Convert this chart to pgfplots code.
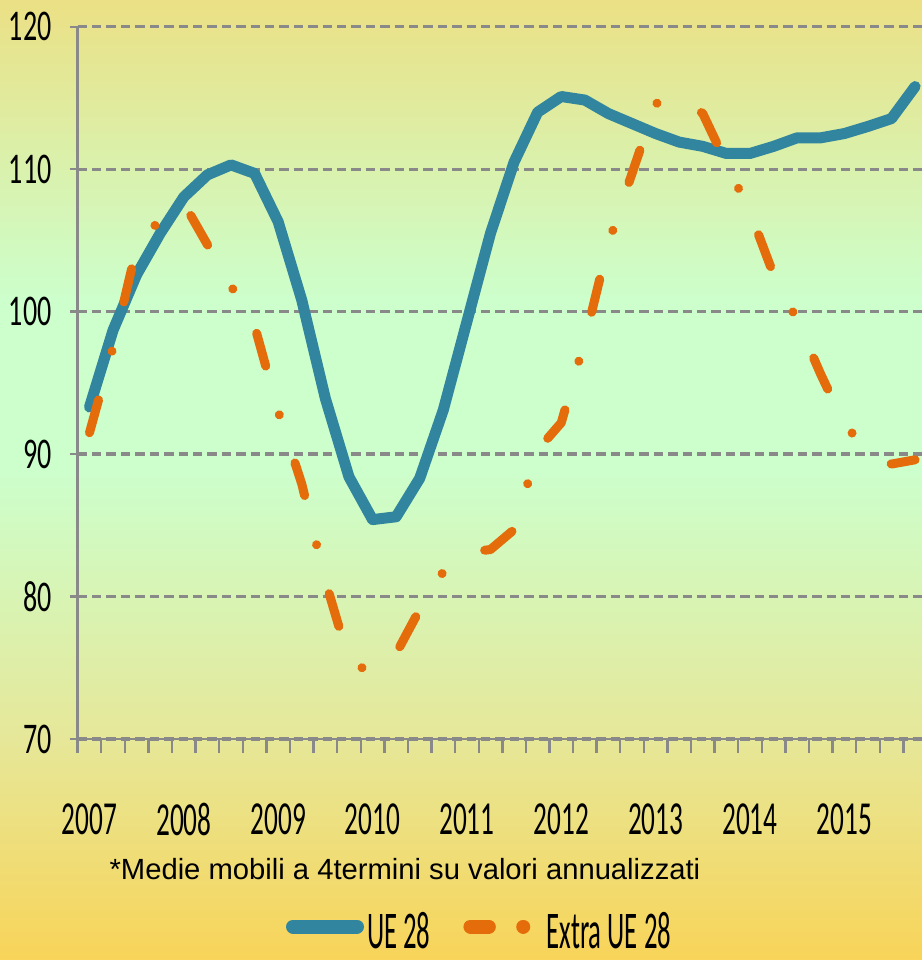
\documentclass[border=0pt]{standalone}
\usepackage{pgfplots}
\pgfplotsset{compat=1.18}
\usepackage{pgfplotstable}
\usepackage{fontspec}
\setmainfont{Carlito}
\newfontfamily\ytf[FakeStretch=0.64]{Carlito}
\newfontfamily\xtf[FakeStretch=0.575]{Carlito}
\newfontfamily\lgf[FakeStretch=0.505]{Carlito}
\newfontfamily\notef{Liberation Sans}
\definecolor{ueblue}{RGB}{49,133,158}
\definecolor{extraorange}{RGB}{228,108,10}
\definecolor{axgray}{RGB}{137,137,137}
\definecolor{bgA}{RGB}{235,224,133}
\definecolor{bgB}{RGB}{204,255,204}
\definecolor{bgC}{RGB}{230,231,152}
\definecolor{bgD}{RGB}{248,212,89}

\pgfplotstableread{
q ue extra
0 93.3 91.5
1 98.7 97.5
2 102.6 104.5
3 105.5 106.5
4 108.05 107.6
5 109.6 104.7
6 110.3 101.8
7 109.7 99.0
8 106.3 93.0
9 100.8 87.9
10 93.9 81.1
11 88.4 75.5
12 85.4 74.6
13 85.6 76.0
14 88.3 79.1
15 93.1 81.75
16 99.3 83.1
17 105.5 83.3
18 110.5 84.7
19 114.0 90.3
20 115.1 92.2
21 114.85 98.0
22 113.9 104.8
23 113.2 109.7
24 112.5 114.6
25 111.9 115.1
26 111.6 113.9
27 111.1 110.4
28 111.1 107.0
29 111.6 102.6
30 112.2 99.4
31 112.2 95.6
32 112.5 92.1
33 113.0 90.2
34 113.55 89.3
35 115.8 89.6
}\data

\begin{document}
\begin{tikzpicture}
\path[use as bounding box] (0,0) rectangle (461pt,480pt);
\shade[top color=bgA, bottom color=bgB] (0,329.5pt) rectangle (461pt,480pt);
\fill[bgB] (0,244.5pt) rectangle (461pt,330pt);
\shade[top color=bgB, bottom color=bgC] (0,109.5pt) rectangle (461pt,245pt);
\shade[top color=bgC, bottom color=bgD] (0,0) rectangle (461pt,110pt);

\begin{axis}[
  at={(38.85pt,110.5pt)}, anchor=south west,
  scale only axis, width=424.6pt, height=356.15pt,
  xmin=-0.5, xmax=35.5, ymin=70, ymax=120,
  axis lines=left,
  axis line style={axgray, line width=1.3pt, -},
  tick align=outside,
  tick style={axgray, line width=1.2pt},
  major tick length=4pt, minor tick length=7pt,
  xtick={0,4,...,32},
  xticklabels={2007,2008,2009,2010,2011,2012,2013,2014,2015},
  minor xtick={-0.5,0.5,...,35.5},
  major x tick style={draw=none},
  ytick={70,80,...,120},
  ymajorgrids,
  major grid style={axgray, line width=1.6pt, dash pattern=on 4.7pt off 2.5pt},
  /pgf/number format/assume math mode=true,
  yticklabel style={font=\ytf\fontsize{21.9pt}{22pt}\selectfont, anchor=east, inner sep=0pt, xshift=-8.85pt},
  xticklabel style={font=\xtf\fontsize{23.7pt}{24pt}\selectfont, anchor=north, inner sep=0pt, yshift=-28pt},
  legend columns=-1,
  legend style={at={(0.2453,-0.2426)}, anchor=north west, draw=none, fill=none,
    inner sep=0pt, outer sep=0pt,
    font=\lgf\fontsize{26.5pt}{27pt}\selectfont,
    cells={anchor=west}, nodes={inner sep=0pt},
    /tikz/column 1/.style={column sep=1.5pt},
    /tikz/column 2/.style={column sep=16.5pt},
    /tikz/column 3/.style={column sep=7.5pt}},
]
\addplot[ueblue, line width=5.5pt, line join=round, line cap=round,
  legend image code/.code={
    \draw[line width=7pt] (0pt,2.45pt) -- (32pt,2.45pt);}]
  table[x=q, y=ue] {\data};
\addlegendentry{UE 28}
\addplot[extraorange, line width=4.5pt, line join=round, line cap=round,
  dash pattern=on 17pt off 25.3pt on 0.01pt off 25.3pt,
  legend image code/.code={
    \draw[line width=7pt, dash pattern=on 9.2pt off 17.2pt on 0.01pt off 40pt] (0pt,2.45pt) -- (27pt,2.45pt);}]
  table[x=q, y=extra] {\data};
\addlegendentry{Extra UE 28}
\end{axis}

\node[anchor=base west, inner sep=0pt, font=\notef\fontsize{14.6pt}{16pt}\selectfont]
  at (54.6pt,40pt) {*Medie mobili a 4termini su valori annualizzati};
\end{tikzpicture}
\end{document}
